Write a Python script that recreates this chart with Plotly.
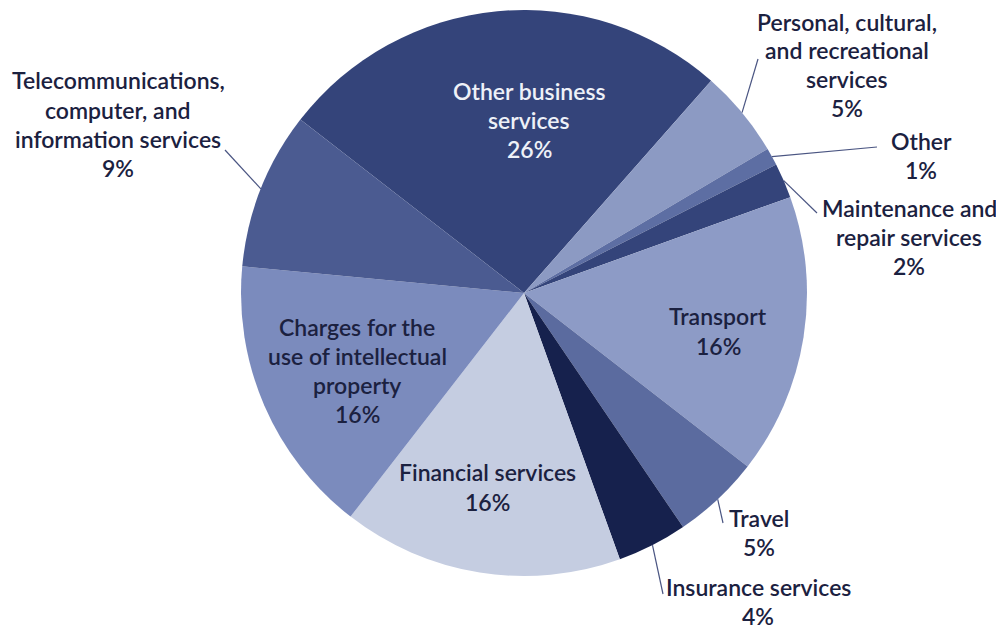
import math
import plotly.graph_objects as go

categories = [
    "Other business\nservices",
    "Personal, cultural,\nand recreational\nservices",
    "Other",
    "Maintenance and\nrepair services",
    "Transport",
    "Travel",
    "Insurance services",
    "Financial services",
    "Charges for the\nuse of intellectual\nproperty",
    "Telecommunications,\ncomputer, and\ninformation services",
]
shares = [26, 5, 1, 2, 16, 5, 4, 16, 16, 9]
colors = ["#34447a", "#8c9ac3", "#5d6ea3", "#34447a", "#8d9bc6",
          "#5b6b9f", "#16214d", "#c5cde1", "#7b8bbd", "#4b5b91"]

# the page body has an 8px margin, so the figure is drawn a bit smaller
OFF = 8
W, H = 1004 - 2 * OFF, 639 - 2 * OFF
CX, CY, R = 524, 293, 283   # screen px
START = 307.8  # degrees clockwise from 12 o'clock


def px(x, y):
    return (x - OFF) / W, 1 - (y - OFF) / H


# label block centre (screen px), leader line end, text colour
label_pos = [
    (529, 120, None, "#eef1f8"),
    (847, 65, (758, 59), None),
    (921, 155, (877, 147), None),
    (909, 237, (817, 213), None),
    (718, 331, None, None),
    (759, 532, (723, 523), None),
    (758, 601, (663, 594), None),
    (487, 487, None, None),
    (357, 370, None, None),
    (118, 124, (225, 150), None),
]

x0, y1 = px(CX - R, CY - R)
x1, y0 = px(CX + R, CY + R)
fig = go.Figure(go.Pie(
    labels=[c.replace("\n", " ") for c in categories],
    values=shares,
    sort=False,
    direction="clockwise",
    rotation=START,
    marker=dict(colors=colors, line=dict(width=0)),
    textinfo="none",
    hoverinfo="label+percent",
    showlegend=False,
    domain=dict(x=[x0, x1], y=[y0, y1]),
))

font_family = "Lato, 'Noto Sans', sans-serif"
line_h = 29
total = sum(shares)
acc = 0
for cat, val, (lx, ly, end, col) in zip(categories, shares, label_pos):
    mid = math.radians(START + (acc + val / 2) / total * 360)
    acc += val
    lines = cat.split("\n") + [f"{val}%"]
    top = ly - (len(lines) - 1) * line_h / 2
    for i, t in enumerate(lines):
        ax, ay = px(lx, top + i * line_h)
        fig.add_annotation(
            x=ax, y=ay, xref="paper", yref="paper",
            text=t, showarrow=False, xanchor="center", yanchor="middle",
            font=dict(family=font_family, size=23, color=col or "#1b2140", weight=600),
        )
    if end:
        sx, sy = px(CX + R * math.sin(mid), CY - R * math.cos(mid))
        ex, ey = px(*end)
        fig.add_shape(type="line", xref="paper", yref="paper",
                      x0=sx, y0=sy, x1=ex, y1=ey,
                      line=dict(color="#4a5582", width=1.2))

fig.update_layout(
    width=W, height=H, autosize=False,
    margin=dict(l=0, r=0, t=0, b=0),
    paper_bgcolor="white", plot_bgcolor="white",
)

fig.write_html("out.html")
